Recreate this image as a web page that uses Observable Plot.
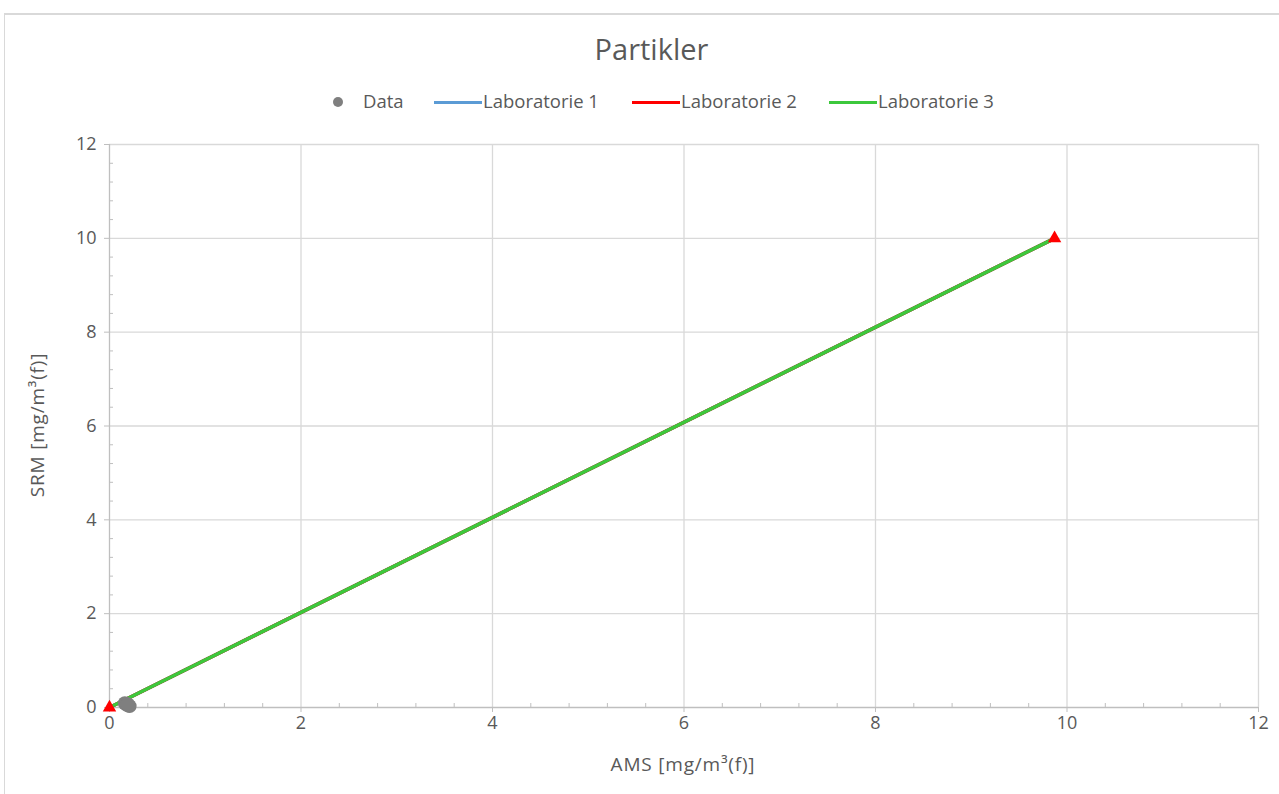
<!DOCTYPE html>
<html>
<head>
<meta charset="utf-8">
<script src="https://cdn.jsdelivr.net/npm/d3@7"></script>
<script src="https://cdn.jsdelivr.net/npm/@observablehq/plot@0.6"></script>
<style>
  html, body { margin: 0; padding: 0; background: #fff; overflow: hidden; }
  body { width: 1279px; height: 794px; position: relative; font-family: "Open Sans", "Liberation Sans", Arial, sans-serif; color: #595959; }
  #frame { position: absolute; left: 4px; top: 13px; width: 1300px; height: 820px; border-left: 1px solid #d9d9d9; border-top: 2px solid #d9d9d9; }
  #title { position: absolute; left: 24px; width: 1255px; top: 29px; text-align: center; font-size: 29px; color: #595959; }
  #legend { position: absolute; top: 89px; left: 0; width: 1279px; height: 24px; font-size: 18.5px; }
  .li { position: absolute; top: 0; line-height: 24px; white-space: nowrap; }
  #chart { position: absolute; left: 0; top: 120px; }
  .ylab { position: absolute; left: 37px; top: 425px; transform: translate(-50%, -50%) rotate(-90deg); font-size: 19px; letter-spacing: 0.8px; white-space: nowrap; }
  .xlab { position: absolute; left: 683px; top: 764px; transform: translate(-50%, -50%); font-size: 19px; letter-spacing: 0.8px; white-space: nowrap; }
</style>
</head>
<body>
<div id="frame"></div>
<div id="title"></div>
<div id="legend"></div>
<div id="chart"></div>
<div class="ylab" id="ylab"></div>
<div class="xlab" id="xlab"></div>
<script>
const title = "Partikler";
const xLabel = "AMS [mg/m³(f)]";
const yLabel = "SRM [mg/m³(f)]";
const seriesNames = ["Laboratorie 1", "Laboratorie 2", "Laboratorie 3"];
const seriesColors = ["#5b9bd5", "#ff0000", "#3cc83c"];
const seriesX = [[0, 9.87], [0, 9.87], [0, 9.87]];
const seriesY = [[0, 10.0], [0, 10.0], [0, 10.0]];
const dataX = [0.16, 0.18, 0.2, 0.21, 0.19];
const dataY = [0.09, 0.06, 0.04, 0.03, 0.07];
const markerX = [0, 9.87];
const markerY = [0, 10.0];
const majorTicks = [0, 2, 4, 6, 8, 10, 12];
const minorTicks = d3.range(0, 31).map(i => +(i * 0.4).toFixed(1)).filter(v => v <= 12 && Math.abs(v / 2 - Math.round(v / 2)) > 1e-6);

document.getElementById("title").textContent = title;
document.getElementById("xlab").textContent = xLabel;
document.getElementById("ylab").textContent = yLabel;

// legend
const legend = document.getElementById("legend");
const dotItem = document.createElement("div");
dotItem.className = "li";
dotItem.style.left = "333px";
dotItem.innerHTML = '<span style="display:inline-block;width:10px;height:10px;border-radius:50%;background:#7f7f7f;vertical-align:middle;margin-right:20px;position:relative;top:-1px"></span>Data';
legend.appendChild(dotItem);
const legLeft = [434, 632, 829];
seriesNames.forEach((n, i) => {
  const d = document.createElement("div");
  d.className = "li";
  d.style.left = legLeft[i] + "px";
  d.innerHTML = `<span style="display:inline-block;width:48px;height:3px;background:${seriesColors[i]};vertical-align:middle;margin-right:1px;position:relative;top:-1px"></span>${n}`;
  legend.appendChild(d);
});

const lineData = [];
seriesNames.forEach((n, i) => {
  seriesX[i].forEach((x, j) => lineData.push({series: n, x, y: seriesY[i][j]}));
});
const points = dataX.map((x, i) => ({x, y: dataY[i]}));
const markers = markerX.map((x, i) => ({x, y: markerY[i]}));

const chart = Plot.plot({
  width: 1279,
  height: 674,
  marginLeft: 109,
  marginRight: 21,
  marginTop: 24,
  marginBottom: 87,
  style: {fontFamily: '"Open Sans", "Liberation Sans", Arial, sans-serif', fontSize: "18px", color: "#595959", background: "transparent"},
  x: {domain: [0, 12], label: null},
  y: {domain: [0, 12], label: null},
  color: {domain: seriesNames, range: seriesColors},
  marks: [
    Plot.gridX(majorTicks.filter(v => v > 0), {stroke: "#d9d9d9", strokeOpacity: 1, strokeWidth: 1.3}),
    Plot.gridY(majorTicks.filter(v => v > 0), {stroke: "#d9d9d9", strokeOpacity: 1, strokeWidth: 1.3}),
    Plot.ruleX([0], {stroke: "#bfbfbf", strokeWidth: 1.3}),
    Plot.ruleY([0], {stroke: "#bfbfbf", strokeWidth: 1.3}),
    Plot.axisX(majorTicks, {tickSize: 5, stroke: "#bfbfbf", tickPadding: 4, fill: "#595959", fontSize: 18}),
    Plot.axisY(majorTicks, {tickSize: 5, stroke: "#bfbfbf", tickPadding: 8, fill: "#595959", fontSize: 18}),
    Plot.axisX(minorTicks, {tickSize: -4, stroke: "#bfbfbf", text: null}),
    Plot.axisY(minorTicks, {tickSize: -4, stroke: "#bfbfbf", text: null}),
    Plot.line(lineData, {x: "x", y: "y", z: "series", stroke: "series", strokeWidth: 3.5}),
    Plot.dot(points, {x: "x", y: "y", r: 7, fill: "#7f7f7f"}),
    Plot.dot(markers, {x: "x", y: "y", symbol: "triangle", r: 5, fill: "#ff0000"})
  ]
});
document.getElementById("chart").appendChild(chart);
</script>
</body>
</html>
